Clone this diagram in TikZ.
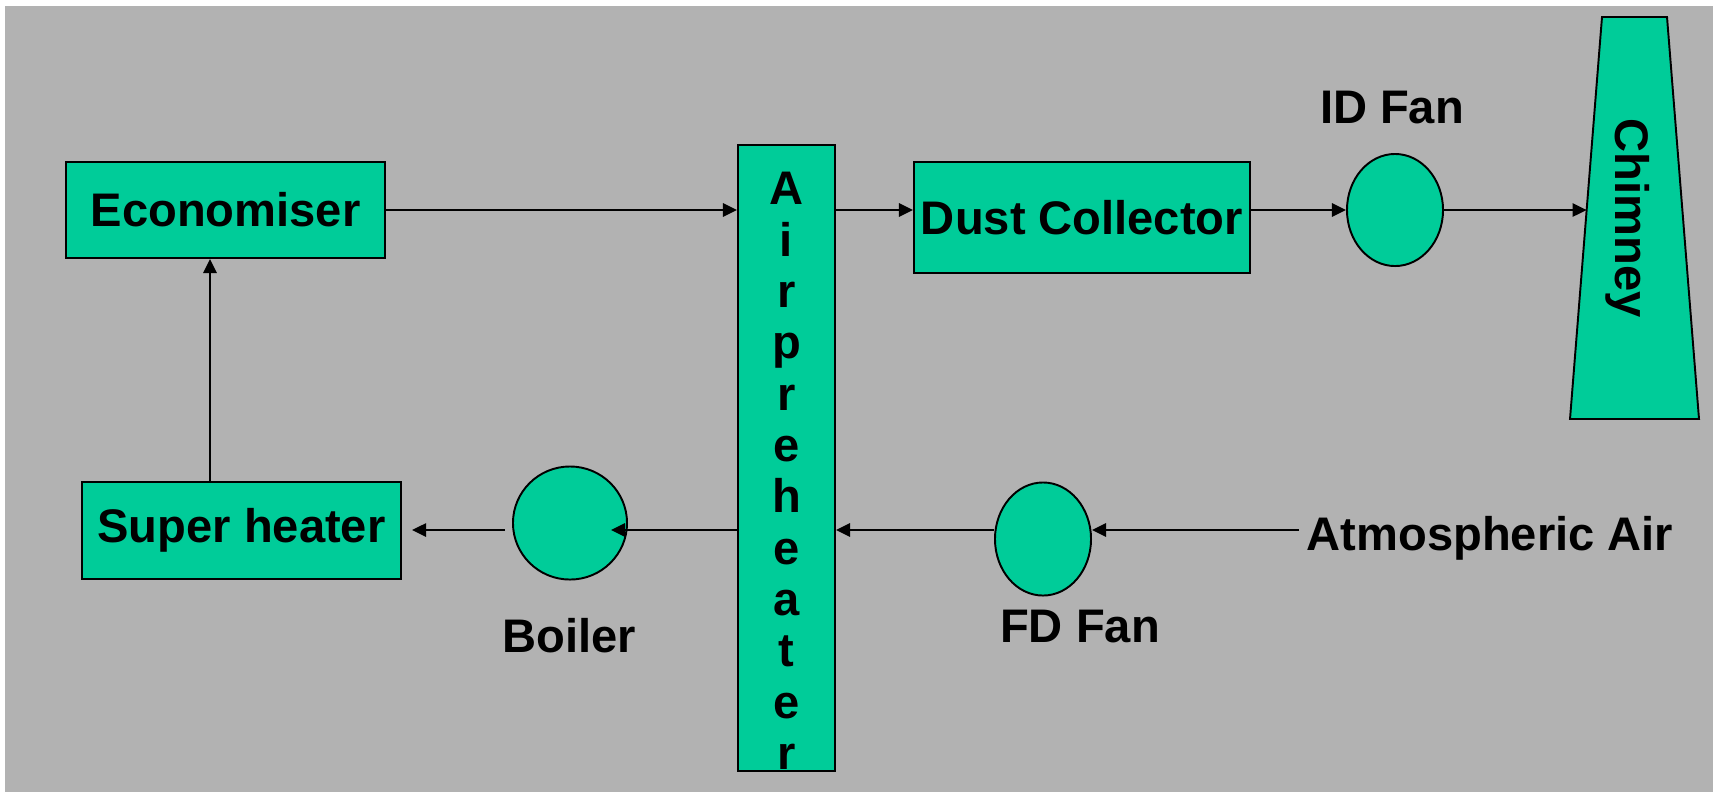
\documentclass[tikz,border=0pt]{standalone}
\usepackage{fontspec}
\setmainfont{Liberation Sans}
\usetikzlibrary{arrows.meta, shapes.geometric}
\definecolor{cgreen}{HTML}{00CC99}
\definecolor{cback}{HTML}{B2B2B2}
\tikzset{
  every picture/.style={font=\bfseries\fontsize{13.4}{14.6}\selectfont, line width=0.55pt},
  unit/.style={draw=black, fill=cgreen, inner sep=0pt, align=center},
  fan/.style={draw=black, fill=cgreen, ellipse, inner sep=0pt},
  arrow/.style={-{Triangle[length=4pt, width=3.8pt]}, draw=black},
  tag/.style={anchor=base, inner sep=0pt},
}

\begin{document}
\begin{tikzpicture}[x=0.01cm, y=-0.01cm]
  \useasboundingbox (0,0) rectangle (1715,793);
  \fill[white] (0,0) rectangle (1715,793);
  \fill[cback] (5,6) rectangle (1713,792);
  % ---------- top row
  \node[unit, minimum width=3.19cm, minimum height=0.96cm] (econ) at (225.5,210) {Economiser};
  \node[unit, minimum width=0.97cm, minimum height=6.26cm] (aph) at (786.5,458) {};
  \node[align=center, inner sep=0pt] (aphtext) at (786.5,471) {A\\i\\r\\p\\r\\e\\h\\e\\a\\t\\e\\r};
  \node[unit, minimum width=3.36cm, minimum height=1.11cm] (dust) at (1082,217.5) {Dust Collector};
  \node[fan, minimum width=0.96cm, minimum height=1.12cm] (idfan) at (1395,210) {};
  \node[tag] (idlabel) at (1392,123) {ID Fan};
  \fill[cgreen, draw=black] (1602,17) -- (1667,17) -- (1699,419) -- (1570,419) -- cycle;
  \node[rotate=-90] (chimney) at (1628,218) {Chimney};
  \coordinate (chimin) at (1586.6,210);
  % ---------- bottom row
  \node[unit, minimum width=3.19cm, minimum height=0.97cm] (sh) at (241.5,530.5) {Super heater};
  \node[fan, minimum width=1.14cm, minimum height=1.13cm] (boiler) at (570,523) {};
  \node[tag] (boilerlabel) at (569,652) {Boiler};
  \node[fan, minimum width=0.96cm, minimum height=1.13cm] (fdfan) at (1043,539) {};
  \node[tag] (fdlabel) at (1080,642) {FD Fan};
  \node[tag] (atm) at (1490,550) {Atmospheric Air};
  \coordinate (airin) at (1299,530);
  % ---------- flow
  \draw[arrow] (econ.east) -- (econ.east -| aph.west);
  \draw[arrow] (aph.east |- idfan) -- (dust.west |- idfan);
  \draw[arrow] (dust.east |- idfan) -- (idfan.west);
  \draw[arrow] (idfan.east) -- (chimin);
  \draw[arrow] (airin) -- (fdfan.east |- airin);
  \draw[arrow] (fdfan.west |- airin) -- (aph.east |- airin);
  \draw[arrow] (aph.west |- airin) -- ([xshift=-0.17cm]boiler.east |- airin);
  \draw[arrow] ([xshift=-0.07cm]boiler.west |- airin) -- ([xshift=0.1cm]sh.east |- airin);
  \draw[arrow] ([xshift=-0.315cm]sh.north) -- ([xshift=-0.315cm]sh.north |- econ.south);
\end{tikzpicture}
\end{document}
